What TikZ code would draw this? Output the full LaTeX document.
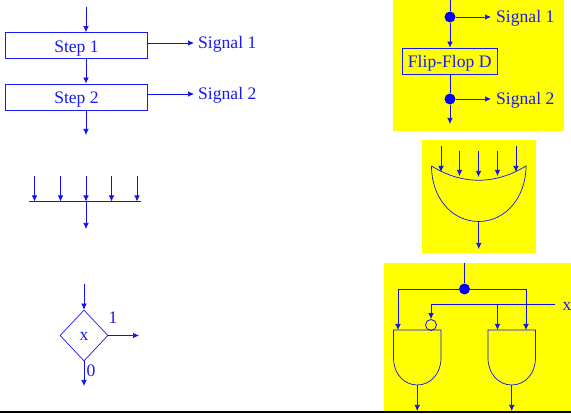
\documentclass[tikz,border=0pt]{standalone}
\usepackage{fontspec}
\setmainfont{Liberation Serif}
\usetikzlibrary{arrows.meta,shapes.geometric}
\definecolor{wireblue}{HTML}{1010F0}
\definecolor{textblue}{HTML}{1A1AF5}
\definecolor{padyellow}{HTML}{FFFF00}
\tikzset{
  wire/.style={wireblue,line width=.7pt},
  sig/.style={wire,-{Latex[length=6pt,width=5.5pt]}},
  stepbox/.style={draw=wireblue,line width=.8pt,inner sep=0pt,minimum height=26pt,text height=18pt,text depth=4pt},
  lbl/.style={textblue,inner sep=0pt},
  dot/.style={circle,fill=blue,inner sep=0pt,minimum size=11pt},
}
\begin{document}
\begin{tikzpicture}[x=1pt,y=-1pt,>=Latex,font=\fontsize{17.6}{20}\selectfont]
\useasboundingbox (0,0) rectangle (571,414);
\fill[padyellow] (393,0) rectangle (564,131);
\fill[padyellow] (422,140) rectangle (536,253);
\fill[padyellow] (384,263) rectangle (571,411);
\draw[black,line width=1.2pt] (0,412)--(571,412);
% flow chart steps
\coordinate (stepin) at (86,7);
\coordinate (stepout) at (86,135);
\coordinate (sigend1) at (194,43);
\coordinate (sigend2) at (194,94);
\node[stepbox,minimum width=142pt,textblue] (step1) at (76.5,45.5) {Step 1};
\node[stepbox,minimum width=142pt,textblue] (step2) at (76.5,97) {Step 2};
\node[lbl,anchor=west] (sig1) at (198,44.5) {Signal 1};
\node[lbl,anchor=west] (sig2) at (198,95.5) {Signal 2};
\draw[sig] (stepin)--(stepin|-step1.north);
\draw[sig] (stepin|-step1.south)--(stepin|-step2.north);
\draw[sig] (stepin|-step2.south)--(stepout);
\draw[sig] (step1.east|-sigend1)--(sigend1);
\draw[sig] (step2.east|-sigend2)--(sigend2);
% flip-flop
\coordinate (fftop) at (450,0);
\coordinate (ffout) at (450,124);
\coordinate (ffend1) at (491,17);
\coordinate (ffend2) at (491,99);
\node[dot] (ffdot1) at (450,17) {};
\node[dot] (ffdot2) at (450,99) {};
\node[stepbox,minimum width=94.5pt,textblue] (ff) at (449.75,61) {Flip-Flop D};
\node[lbl,anchor=west] (ffsig1) at (496,18.5) {Signal 1};
\node[lbl,anchor=west] (ffsig2) at (496,100.5) {Signal 2};
\draw[wire] (fftop)--(ffdot1);
\draw[sig] (ffdot1)--(ffdot1|-ff.north);
\draw[wire] (ffdot2|-ff.south)--(ffdot2);
\draw[sig] (ffdot2)--(ffout);
\draw[sig] (ffdot1)--(ffend1);
\draw[sig] (ffdot2)--(ffend2);
% merging bar
\coordinate (barl) at (29,201.5);
\coordinate (barr) at (141,201.5);
\coordinate (barout) at (86,229);
\draw[wire,line width=1pt] (barl)--(barr);
\foreach \x [count=\i] in {34.5,60.5,86,111.5,137}{
  \coordinate (barin\i) at (\x,176);
  \draw[sig] (barin\i)--(\x,201.5);
}
\draw[sig] (barin3|-barl)--(barout);
% OR gate
\coordinate (orl) at (431.5,166);
\coordinate (orr) at (526,166);
\coordinate (orb) at (478.75,221.5);
\coordinate (orout) at (478.75,249);
\draw[wire] (orl) .. controls (462,185) and (495,185) .. (orr)
  .. controls (526,198) and (505,221.5) .. (orb)
  .. controls (452,221.5) and (431.5,198) .. (orl);
\foreach \x/\ya/\yb in {441/146/172,459.5/151/176,478.5/151/177,497.5/151/176,516/146/172}
  \draw[sig] (\x,\ya)--(\x,\yb);
\draw[sig] (orb)--(orout);
% decision
\node[diamond,draw=wireblue,line width=.7pt,inner sep=0pt,minimum width=48pt,minimum height=51pt,textblue,text height=11pt,text depth=0pt] (dec) at (84,335.5) {x};
\coordinate (decin) at (84,284);
\coordinate (decr) at (139,335.5);
\coordinate (decb) at (84,386);
\draw[sig] (decin)--(dec.north);
\draw[sig] (dec.east)--(decr);
\draw[sig] (dec.south)--(decb);
\node[lbl] (dec1) at (113,318) {1};
\node[lbl] (dec0) at (91,371) {0};
% AND gates
\tikzset{andgate/.pic={
  \draw[wire] (-23.75,0)--(23.75,0)--(23.75,28) .. controls (23.75,44) and (13,55) .. (0,55)
    .. controls (-13,55) and (-23.75,44) .. (-23.75,28)--cycle;
}}
\pic at (417.25,330) {andgate};
\pic at (511.75,330) {andgate};
\coordinate (gatein) at (464.5,263);
\coordinate (gl) at (398,289);
\coordinate (gr) at (526,289);
\coordinate (xl) at (431,304.5);
\coordinate (xm) at (497.5,304.5);
\coordinate (xr) at (555,304.5);
\node[dot] (gdot) at (464.5,289) {};
\node[circle,draw=wireblue,line width=.8pt,inner sep=0pt,minimum size=11pt] (bub) at (431,325) {};
\node[lbl] (xlab) at (567,306) {x};
\draw[wire] (gatein)--(gdot);
\draw[wire] (gl)--(gr);
\draw[sig] (gl)--(398,330);
\draw[sig] (gr)--(526,330);
\draw[wire] (xl)--(xr);
\draw[sig] (xl)--(bub.north);
\draw[sig] (xm)--(497.5,330);
\draw[sig] (417.25,385)--(417.25,411);
\draw[sig] (511.75,385)--(511.75,411);
\end{tikzpicture}
\end{document}
